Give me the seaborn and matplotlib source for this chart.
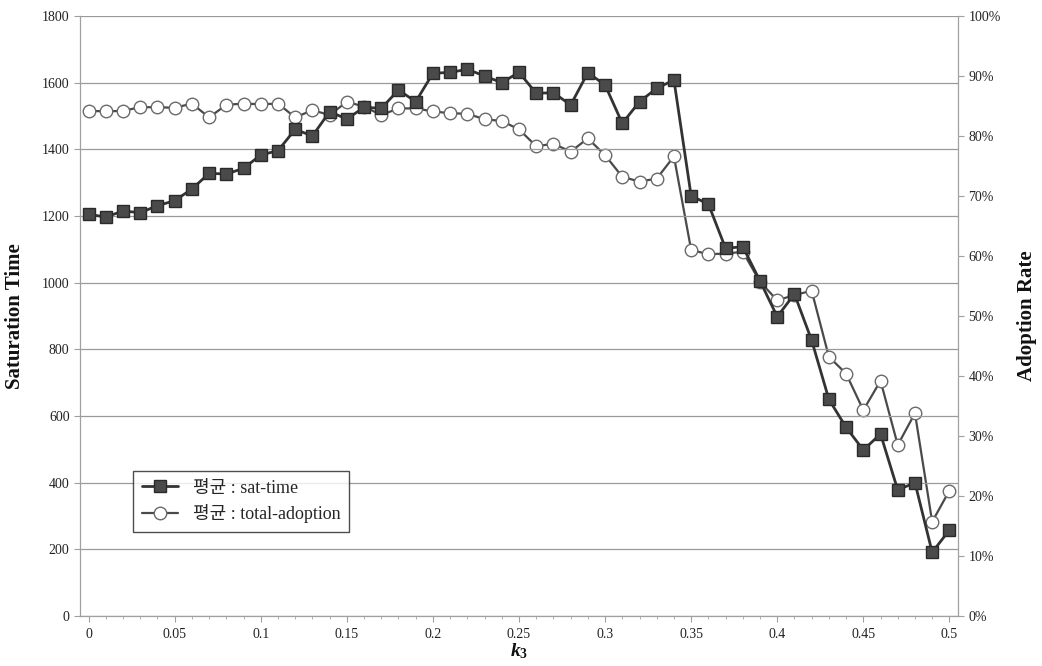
import numpy as np
import pandas as pd
import matplotlib
matplotlib.use("Agg")
import matplotlib.pyplot as plt
import seaborn as sns
from matplotlib.ticker import MultipleLocator, FuncFormatter

k3 = [round(0.01 * i, 2) for i in range(51)]
sat_time = [1205, 1197, 1215, 1210, 1231, 1246, 1281, 1328, 1326, 1343,
            1383, 1396, 1460, 1440, 1513, 1491, 1526, 1523, 1578, 1543,
            1628, 1631, 1640, 1620, 1600, 1631, 1568, 1570, 1533, 1630,
            1593, 1478, 1543, 1583, 1608, 1260, 1236, 1103, 1108, 1005,
            898, 966, 827, 650, 566, 498, 546, 378, 400, 191, 258]
adoption = [84.2, 84.1, 84.2, 84.8, 84.8, 84.7, 85.4, 83.1, 85.2, 85.4,
            85.3, 85.4, 83.1, 84.3, 83.5, 85.7, 84.9, 83.5, 84.6, 84.6,
            84.1, 83.8, 83.7, 82.8, 82.5, 81.1, 78.3, 78.7, 77.4, 79.6,
            76.8, 73.2, 72.4, 72.9, 76.6, 61.0, 60.3, 60.4, 60.7, 55.7,
            52.6, 53.5, 54.2, 43.2, 40.4, 34.3, 39.2, 28.5, 33.8, 15.7, 20.9]
adoption = [a / 100 for a in adoption]

label_sat = "평균 : sat-time"
label_adopt = "평균 : total-adoption"

df = pd.DataFrame({"k3": k3, "sat": sat_time, "adopt": adoption})

sns.set_theme(style="white")
plt.rcParams["font.family"] = ["Liberation Serif", "Noto Sans CJK KR"]
plt.rcParams["mathtext.fontset"] = "custom"
plt.rcParams["mathtext.it"] = "Liberation Serif:italic:bold"
plt.rcParams["mathtext.rm"] = "Liberation Serif:bold"

fig = plt.figure(figsize=(10.42, 6.66), dpi=100)
ax = fig.add_axes([80 / 1042, 1 - 616 / 666, 878 / 1042, 600 / 666])
ax2 = ax.twinx()

sns.lineplot(data=df, x="k3", y="sat", ax=ax, color="#333333", linewidth=2.0,
             marker="s", markersize=9, markerfacecolor="#4a4a4a",
             markeredgecolor="#2a2a2a", markeredgewidth=1.0, label=label_sat,
             legend=False, zorder=3)
sns.lineplot(data=df, x="k3", y="adopt", ax=ax2, color="#4a4a4a", linewidth=1.6,
             marker="o", markersize=9, markerfacecolor="white",
             markeredgecolor="#6a6a6a", markeredgewidth=1.0, label=label_adopt,
             legend=False, zorder=2)

ax.set_zorder(ax2.get_zorder() + 1)
ax.patch.set_visible(False)

ax.set_xlim(-0.005, 0.505)
ax.set_ylim(0, 1800)
ax2.set_ylim(0, 1.0)
ax.xaxis.set_major_locator(MultipleLocator(0.05))
ax.xaxis.set_minor_locator(MultipleLocator(0.01))
ax.xaxis.set_major_formatter(FuncFormatter(lambda v, p: "0" if abs(v) < 1e-9 else f"{v:g}"))
ax.yaxis.set_major_locator(MultipleLocator(200))
ax2.yaxis.set_major_locator(MultipleLocator(0.1))
ax2.yaxis.set_major_formatter(FuncFormatter(lambda v, p: f"{v * 100:.0f}%"))

ax.grid(axis="y", color="#9a9a9a", linewidth=0.9)
ax.grid(axis="x", visible=False)
ax2.grid(False)

for a in (ax, ax2):
    for s in a.spines.values():
        s.set_visible(False)
ax.spines["left"].set_visible(True)
ax.spines["bottom"].set_visible(True)
ax2.spines["right"].set_visible(True)
for s in (ax.spines["left"], ax.spines["bottom"], ax2.spines["right"]):
    s.set_color("#a0a0a0")
    s.set_linewidth(0.9)

ax.tick_params(axis="y", which="both", direction="out", length=4, width=0.8,
               color="#a0a0a0", labelsize=10, labelcolor="#222222", left=True)
ax.tick_params(axis="x", which="major", direction="out", length=4, width=0.8,
               color="#a0a0a0", labelsize=10, labelcolor="#222222", bottom=True, pad=5)
ax.tick_params(axis="x", which="minor", direction="out", length=2, width=0.6,
               color="#a0a0a0", bottom=True)
ax2.tick_params(axis="y", direction="out", length=4, width=0.8, color="#a0a0a0",
                labelsize=10, labelcolor="#222222", right=True)

ax.set_xlabel("$k_3$", fontsize=14, labelpad=0, color="#111111")
ax.set_ylabel("Saturation Time", fontsize=15, fontweight="bold", labelpad=12,
              color="#111111")
ax2.set_ylabel("Adoption Rate", fontsize=15, fontweight="bold", labelpad=12,
               color="#111111", rotation=90)

h1, l1 = ax.get_legend_handles_labels()
h2, l2 = ax2.get_legend_handles_labels()
leg = ax.legend(h1 + h2, l1 + l2, loc="lower left", bbox_to_anchor=(0.05, 0.125),
                fontsize=13, frameon=True, fancybox=False, edgecolor="#222222",
                handlelength=2.0, borderpad=0.5, labelspacing=0.4)
leg.get_frame().set_linewidth(1.0)
leg.get_frame().set_facecolor("white")

fig.savefig("out.png", dpi=100)
